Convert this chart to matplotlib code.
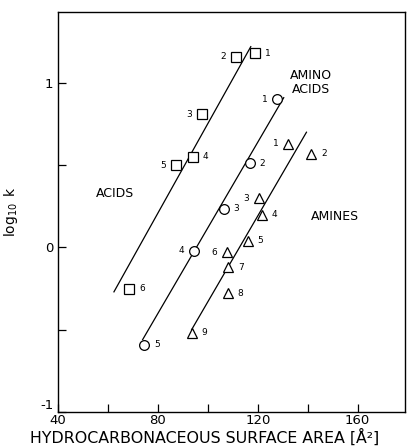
import numpy as np
import matplotlib
matplotlib.use("Agg")
import matplotlib.pyplot as plt

plt.rcParams["axes.unicode_minus"] = False

# ── data ─────────────────────────────────────────────────────────────────────
acid_x = [118.8, 111.1, 97.5, 94.1, 87.2, 68.5]
acid_y = [1.18, 1.16, 0.81, 0.55, 0.50, -0.25]
acid_side = ["r", "l", "l", "r", "l", "r"]

amino_x = [127.9, 116.8, 106.5, 94.4, 74.5]
amino_y = [0.90, 0.51, 0.235, -0.02, -0.59]
amino_side = ["l", "r", "r", "l", "r"]

amine_x = [132.1, 141.5, 120.4, 121.7, 116.1, 107.5, 108.1, 107.9, 93.5]
amine_y = [0.63, 0.57, 0.30, 0.20, 0.04, -0.03, -0.12, -0.28, -0.52]
amine_side = ["l", "r", "l", "r", "r", "l", "r", "r", "r"]

# fitted lines (end points)
acid_line_x, acid_line_y = [62.4, 117.2], [-0.27, 1.22]
amino_line_x, amino_line_y = [73.9, 130.4], [-0.56, 0.91]
amine_line_x, amine_line_y = [93.5, 139.5], [-0.50, 0.70]

x_ticks = [40, 80, 120, 160]
y_ticks = [-1, 0, 1]

fig = plt.figure(figsize=(4.1, 4.48), dpi=100)
ax = fig.add_axes([0.1415, 0.0804, 0.8465, 0.8926])

for lx, ly in [(acid_line_x, acid_line_y), (amino_line_x, amino_line_y),
               (amine_line_x, amine_line_y)]:
    ax.plot(lx, ly, color="black", lw=0.9)


def series(xs, ys, sides, marker):
    ax.plot(xs, ys, linestyle="none", marker=marker, markersize=7,
            markerfacecolor="white", markeredgecolor="black", mew=0.9)
    for i, (x, y, s) in enumerate(zip(xs, ys, sides)):
        dx = 7 if s == "r" else -7
        ax.annotate(str(i + 1), (x, y), xytext=(dx, 0), textcoords="offset points",
                    ha="left" if s == "r" else "right", va="center", fontsize=6.5)


series(acid_x, acid_y, acid_side, "s")
series(amino_x, amino_y, amino_side, "o")
series(amine_x, amine_y, amine_side, "^")

ax.text(62.8, 0.33, "ACIDS", fontsize=9, ha="center", va="center")
ax.text(141.5, 1.0, "AMINO\nACIDS", fontsize=9, ha="center", va="center",
        linespacing=1.1)
ax.text(150.8, 0.19, "AMINES", fontsize=9, ha="center", va="center")

ax.set_xlim(40, 179)
ax.set_ylim(-1, 1.43)
ax.set_xticks(x_ticks)
ax.set_xticks([60, 100, 140], minor=True)
ax.set_yticks(y_ticks)
ax.set_yticks([-0.5, 0.5], minor=True)
ax.tick_params(which="both", direction="in", length=6, width=0.9, labelsize=9.5)
ax.tick_params(axis="x", pad=1.5)
for sp in ax.spines.values():
    sp.set_linewidth(1.0)
# the "-1" label sits just above the corner, clear of "40"
ax.get_yticklabels()[0].set_verticalalignment("bottom")

fig.text(0.5, 0.024, "HYDROCARBONACEOUS SURFACE AREA [Å²]",
         fontsize=11.4, ha="center", va="center")
ax.set_ylabel(r"$\log_{10}$ k", fontsize=10)
ax.yaxis.set_label_coords(-0.11, 0.5)

fig.savefig("out.png", dpi=100)
